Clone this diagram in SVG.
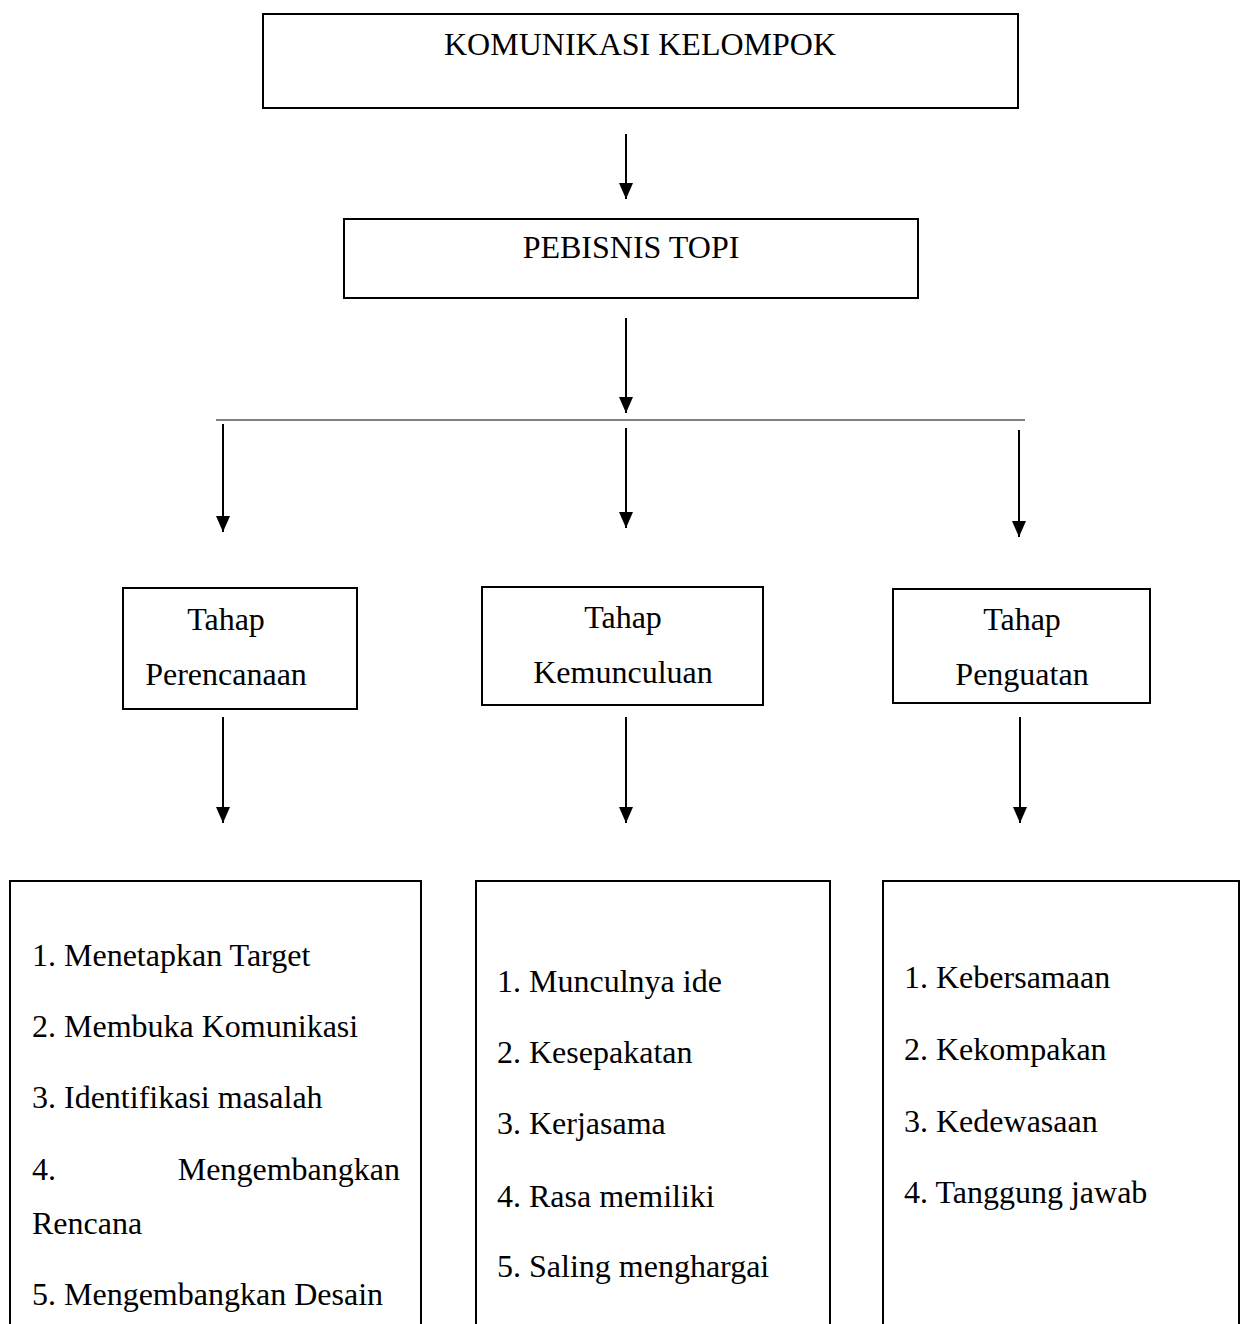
<svg xmlns="http://www.w3.org/2000/svg" width="1241" height="1324" viewBox="0 0 1241 1324">
<style>
.box{fill:#fff;stroke:#000;stroke-width:2}
.t{font-family:"Liberation Serif","Times New Roman",serif;font-size:32px;fill:#000}
.c{text-anchor:middle}
.arr{stroke:#000;stroke-width:2;fill:none;marker-end:url(#ah)}
.bar{stroke:#555;stroke-width:1.3;fill:none}
</style>
<defs>
<marker id="ah" markerUnits="userSpaceOnUse" markerWidth="16" markerHeight="14" viewBox="0 0 16 14" refX="16" refY="7" orient="auto">
<path d="M0,0 L16,7 L0,14 Z" fill="#000"/>
</marker>
</defs>
<rect width="1241" height="1324" fill="#fff"/>
<g id="connectors">
<line class="arr" x1="626" y1="134" x2="626" y2="199"/>
<line class="arr" x1="626" y1="318" x2="626" y2="413"/>
<line class="bar" x1="216" y1="420" x2="1025" y2="420"/>
<line class="arr" x1="223" y1="424" x2="223" y2="532"/>
<line class="arr" x1="626" y1="428" x2="626" y2="528"/>
<line class="arr" x1="1019" y1="430" x2="1019" y2="537"/>
<line class="arr" x1="223" y1="717" x2="223" y2="823"/>
<line class="arr" x1="626" y1="717" x2="626" y2="823"/>
<line class="arr" x1="1020" y1="717" x2="1020" y2="823"/>
</g>
<g id="komunikasi-kelompok">
<rect class="box" x="263" y="14" width="755" height="94"/>
<text class="t c" x="640" y="55">KOMUNIKASI KELOMPOK</text>
</g>
<g id="pebisnis-topi">
<rect class="box" x="344" y="219" width="574" height="79"/>
<text class="t c" x="631" y="258">PEBISNIS TOPI</text>
</g>
<g id="tahap-perencanaan">
<rect class="box" x="123" y="588" width="234" height="121"/>
<text class="t c" x="226" y="630">Tahap</text>
<text class="t c" x="226" y="685">Perencanaan</text>
</g>
<g id="tahap-kemunculuan">
<rect class="box" x="482" y="587" width="281" height="118"/>
<text class="t c" x="623" y="628">Tahap</text>
<text class="t c" x="623" y="683">Kemunculuan</text>
</g>
<g id="tahap-penguatan">
<rect class="box" x="893" y="589" width="257" height="114"/>
<text class="t c" x="1022" y="630">Tahap</text>
<text class="t c" x="1022" y="685">Penguatan</text>
</g>
<g id="list-perencanaan">
<rect class="box" x="10" y="881" width="411" height="480"/>
<text class="t" x="32" y="966">1. Menetapkan Target</text>
<text class="t" x="32" y="1037">2. Membuka Komunikasi</text>
<text class="t" x="32" y="1108">3. Identifikasi masalah</text>
<text class="t" x="32" y="1180">4.</text>
<text class="t" x="400" y="1180" text-anchor="end">Mengembangkan</text>
<text class="t" x="32" y="1234">Rencana</text>
<text class="t" x="32" y="1305">5. Mengembangkan Desain</text>
</g>
<g id="list-kemunculuan">
<rect class="box" x="476" y="881" width="354" height="480"/>
<text class="t" x="497" y="992">1. Munculnya ide</text>
<text class="t" x="497" y="1063">2. Kesepakatan</text>
<text class="t" x="497" y="1134">3. Kerjasama</text>
<text class="t" x="497" y="1207">4. Rasa memiliki</text>
<text class="t" x="497" y="1277">5. Saling menghargai</text>
</g>
<g id="list-penguatan">
<rect class="box" x="883" y="881" width="356" height="480"/>
<text class="t" x="904" y="988">1. Kebersamaan</text>
<text class="t" x="904" y="1060">2. Kekompakan</text>
<text class="t" x="904" y="1132">3. Kedewasaan</text>
<text class="t" x="904" y="1203">4. Tanggung jawab</text>
</g>
</svg>
